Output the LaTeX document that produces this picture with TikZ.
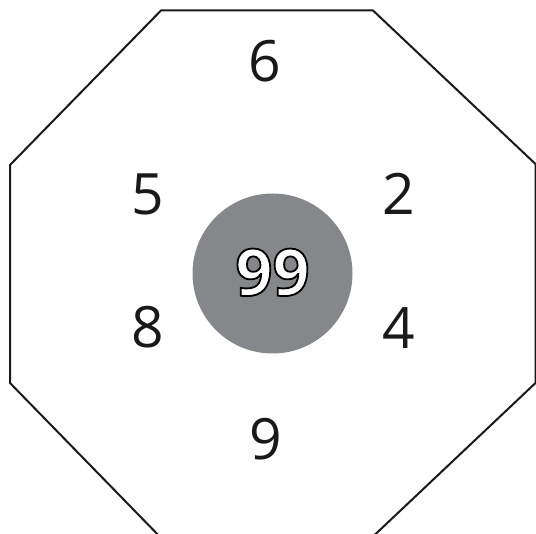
\documentclass[tikz,border=0pt]{standalone}
\usepackage{fontspec}
\setmainfont{Open Sans}
\definecolor{hubgray}{HTML}{86878A}
% white digits with a thin black outline
\newcommand{\outlined}[1]{\textcolor{white}{\special{pdf:code 0 G 1.8 w 2 Tr}#1\special{pdf:code 0 Tr}}}

\begin{document}
\begin{tikzpicture}[x=1pt, y=-1pt,
        num/.style={font=\fontsize{57}{57}\selectfont, inner sep=0pt, text=black!90},
        hub/.style={circle, fill=hubgray, minimum size=160pt, inner sep=0pt,
            font=\fontsize{65}{65}\selectfont\bfseries},
        rim/.style={draw=black!90, line width=2pt, line join=miter},
    ]
    \useasboundingbox (0,0) rectangle (536,534);

    % octagon corners
    \coordinate (c1) at (161,10.5);
    \coordinate (c2) at (373,10.5);
    \coordinate (c3) at (535.5,164);
    \coordinate (c4) at (535.5,383);
    \coordinate (c5) at (364,545);
    \coordinate (c6) at (168,545);
    \coordinate (c7) at (10,383);
    \coordinate (c8) at (10,165);
    \draw[rim] (c1) -- (c2) -- (c3) -- (c4) -- (c5) -- (c6) -- (c7) -- (c8) -- cycle;

    \node (hub) [hub] at (272.5,273.5) {\raisebox{3pt}{\outlined{99}}};

    \node (n6) [num] at (265,61)    {6};
    \node (n5) [num] at (148,194)   {5};
    \node (n2) [num] at (398.5,194) {2};
    \node (n8) [num] at (147.5,327) {8};
    \node (n4) [num] at (398.5,328) {4};
    \node (n9) [num] at (266,439)   {9};

\end{tikzpicture}
\end{document}
